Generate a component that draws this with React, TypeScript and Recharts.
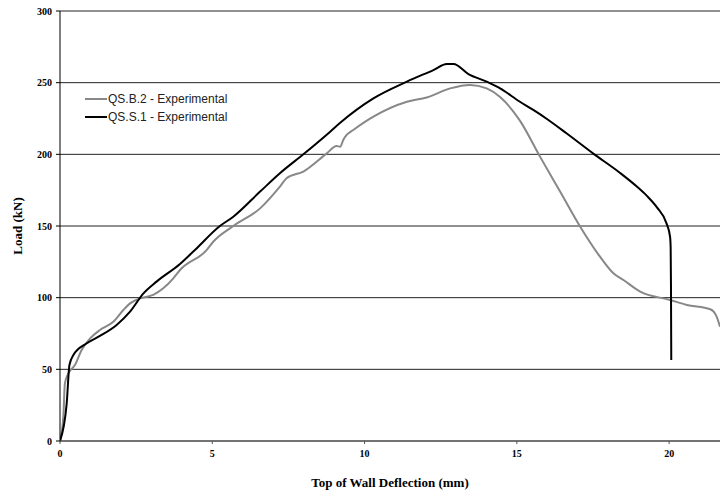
import { LineChart, Line, XAxis, YAxis, CartesianGrid, Label } from 'recharts'

// QS.B.2 - Experimental (grey)
const qsb2X = [0, 0.11, 0.16, 0.27, 0.49, 0.71, 0.99, 1.31, 1.75, 2.08, 2.3, 2.63, 3.06, 3.39, 3.72, 3.94, 4.82, 5.03, 5.69, 6.57, 7.22, 7.44, 7.99, 8.76, 9.08, 9.2, 9.3, 9.41, 9.63, 10.29, 11.39, 12.04, 12.81, 13.46, 14.01, 14.45, 15.1, 15.76, 16.42, 17.08, 17.73, 18.17, 18.5, 19.05, 20.03, 20.58, 21.35, 21.56, 21.67]
const qsb2Load = [0, 17, 40, 47, 53, 63.5, 71.6, 77.4, 83.2, 91.4, 96, 99.5, 101.9, 106.5, 113.5, 119.3, 133.3, 139, 150, 162.3, 177.5, 183.3, 188, 200.7, 205.8, 205.3, 210, 213.5, 217, 226.3, 236.7, 239.7, 246, 248.4, 246, 240, 223.5, 198.4, 174, 149.5, 128.6, 117, 112.3, 104.2, 98.4, 94.9, 91.9, 86.7, 79.7]

// QS.S.1 - Experimental (black)
const qss1X = [0, 0.22, 0.31, 0.44, 0.88, 1.31, 1.86, 2.3, 2.74, 3.17, 3.94, 4.43, 5.25, 5.69, 6.57, 7.22, 7.99, 8.87, 9.2, 10.29, 11.39, 12.26, 12.7, 12.92, 13.41, 14.01, 14.45, 15.1, 15.54, 16.0, 16.64, 17.51, 18.39, 18.94, 19.27, 19.6, 19.92, 20.03, 20.05, 20.06, 20.07]
const qss1Load = [0, 26.3, 53, 60, 68.2, 73.3, 81, 90.2, 103, 111.2, 123.5, 133.3, 150, 156.5, 174, 186.8, 200, 215.8, 222, 239, 250.7, 258.8, 263, 263, 256, 250.7, 246, 236.7, 231, 224.5, 214.5, 200.5, 187, 177.5, 171, 163, 151.5, 142.5, 135, 110, 56.5]

const xTicks = [0, 5, 10, 15, 20]
const yTicks = [0, 50, 100, 150, 200, 250, 300]

const series = [
  { name: 'QS.B.2 - Experimental', color: '#888' },
  { name: 'QS.S.1 - Experimental', color: '#000' },
]

const qsb2 = qsb2X.map((x, i) => ({ x, load: qsb2Load[i] }))
const qss1 = qss1X.map((x, i) => ({ x, load: qss1Load[i] }))

const serif = '"Liberation Serif", "Times New Roman", serif'
const tickStyle = { fontFamily: serif, fontSize: 10, fontWeight: 'bold', fill: '#000' }
const titleStyle = { fontFamily: serif, fontSize: 13, fontWeight: 'bold', fill: '#000', textAnchor: 'middle' as const }

// legend drawn as a plain overlay so it doesn't eat into the plot area
function ChartLegend() {
  return (
    <div style={{ position: 'absolute', left: 85, top: 90, fontFamily: 'Arial, "Liberation Sans", sans-serif', fontSize: 12, color: '#222' }}>
      {series.map((s) => (
        <div key={s.name} style={{ display: 'flex', alignItems: 'center', height: 18 }}>
          <span style={{ display: 'inline-block', width: 22, height: 2, background: s.color, marginRight: 1 }} />
          <span>{s.name}</span>
        </div>
      ))}
    </div>
  )
}

export default function App() {
  return (
    <div style={{ position: 'relative', width: 720, height: 490, background: '#fff', overflow: 'hidden' }}>
      <style>{'body { margin: 0; }'}</style>
      <LineChart width={720} height={490} margin={{ top: 11, right: 0, bottom: 0, left: 0 }}>
        <CartesianGrid vertical={false} stroke="#222" strokeWidth={1} />
        <XAxis
          type="number"
          dataKey="x"
          domain={[0, 21.67]}
          ticks={xTicks}
          allowDataOverflow
          height={49}
          stroke="#555"
          tickSize={3}
          tick={tickStyle}
          tickMargin={6}
        >
          <Label value="Top of Wall Deflection (mm)" position="insideBottom" offset={3} style={titleStyle} />
        </XAxis>
        <YAxis
          type="number"
          dataKey="load"
          domain={[0, 300]}
          ticks={yTicks}
          width={60}
          stroke="#000"
          tickSize={4}
          tick={tickStyle}
          tickMargin={4}
        >
          <Label value="Load (kN)" angle={-90} position="insideLeft" offset={17} style={titleStyle} />
        </YAxis>
        <Line
          data={qsb2}
          dataKey="load"
          name={series[0].name}
          type="monotoneX"
          stroke={series[0].color}
          strokeWidth={2}
          dot={false}
          isAnimationActive={false}
        />
        <Line
          data={qss1}
          dataKey="load"
          name={series[1].name}
          type="monotoneX"
          stroke={series[1].color}
          strokeWidth={2}
          dot={false}
          isAnimationActive={false}
        />
      </LineChart>
      <ChartLegend />
    </div>
  )
}
